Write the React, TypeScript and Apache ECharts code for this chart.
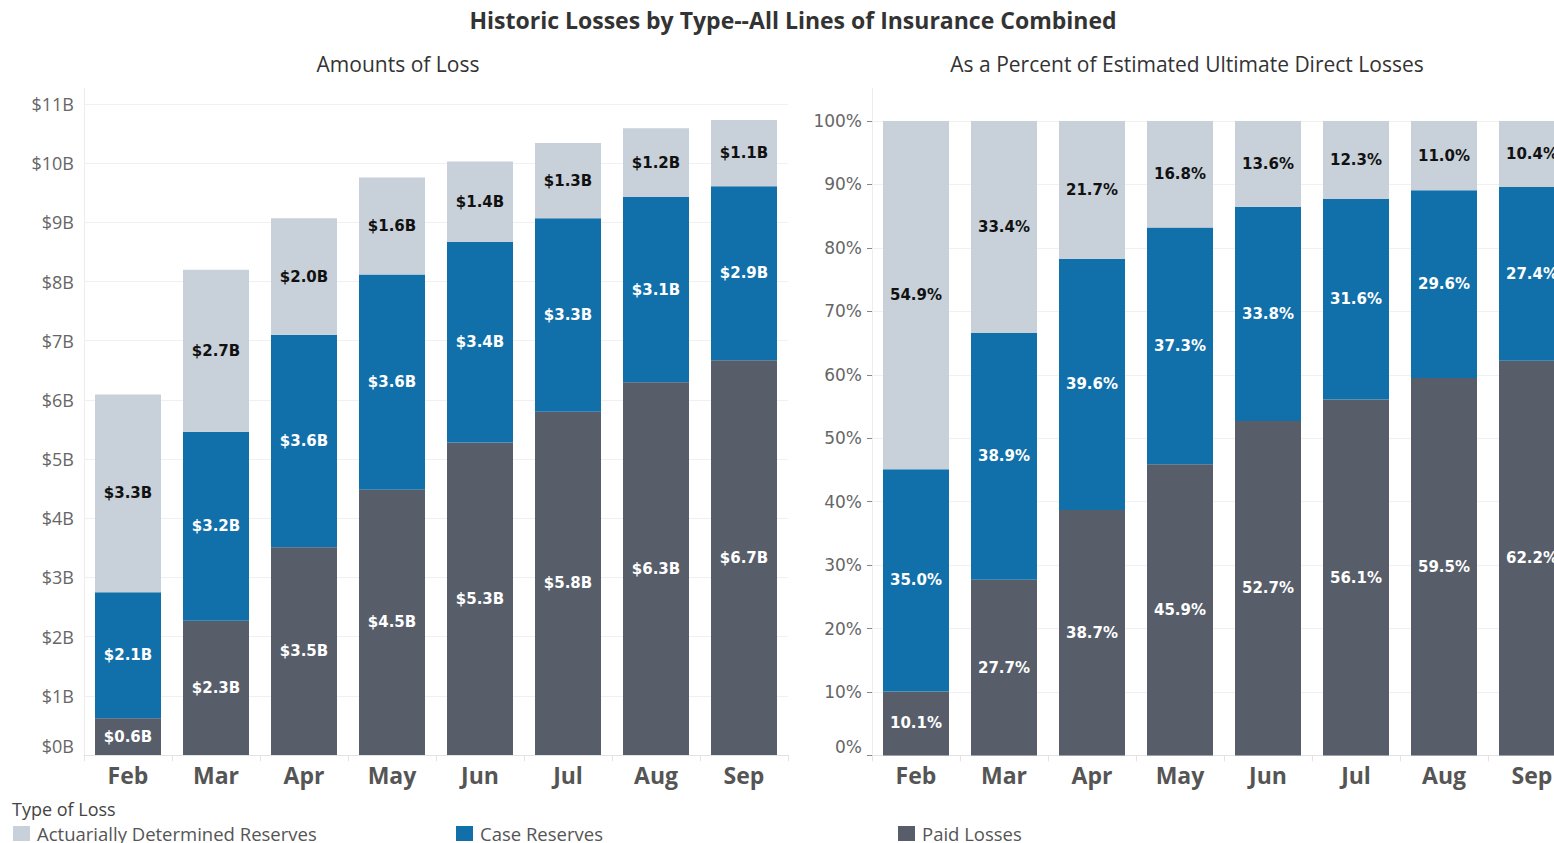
import React, { useEffect, useRef } from "react";
import * as echarts from "echarts";

const months = ["Feb", "Mar", "Apr", "May", "Jun", "Jul", "Aug", "Sep"];
// Amounts of loss, $ billions
const paidAmt = [0.62, 2.27, 3.51, 4.48, 5.28, 5.8, 6.3, 6.67];
const caseAmt = [2.13, 3.19, 3.59, 3.64, 3.39, 3.27, 3.13, 2.94];
const actAmt = [3.34, 2.74, 1.97, 1.64, 1.36, 1.27, 1.16, 1.12];
// Percent of estimated ultimate direct losses
const paidPct = [10.1, 27.7, 38.7, 45.9, 52.7, 56.1, 59.5, 62.2];
const casePct = [35.0, 38.9, 39.6, 37.3, 33.8, 31.6, 29.6, 27.4];
const actPct = [54.9, 33.4, 21.7, 16.8, 13.6, 12.3, 11.0, 10.4];

const NAME_ACT = "Actuarially Determined Reserves";
const NAME_CASE = "Case Reserves";
const NAME_PAID = "Paid Losses";

const C_ACT = "#c8d0d9";
const C_CASE = "#1170aa";
const C_PAID = "#575e6a";

const labelFont = "DejaVu Sans";
const uiFont = "Open Sans";

export default function App() {
  const ref = useRef<HTMLDivElement>(null);
  useEffect(() => {
    if (!ref.current) return;
    const chart = echarts.init(ref.current, undefined, { renderer: "svg" });

    const amtLabel = (color: string) => ({
      show: true,
      position: "inside",
      color,
      fontFamily: labelFont,
      fontWeight: "bold",
      fontSize: 15,
      textBorderWidth: 0,
      formatter: (p: any) => "$" + Number(p.value).toFixed(1) + "B",
    });
    const pctLabel = (color: string) => ({
      show: true,
      position: "inside",
      color,
      fontFamily: labelFont,
      fontWeight: "bold",
      fontSize: 15,
      textBorderWidth: 0,
      formatter: (p: any) => Number(p.value).toFixed(1) + "%",
    });

    const xAxisBase = {
      type: "category",
      data: months,
      axisLine: { show: true, lineStyle: { color: "#e3e3e3" } },
      axisTick: { show: true, length: 6, lineStyle: { color: "#e3e3e3" } },
      axisLabel: {
        color: "#555",
        fontFamily: uiFont,
        fontWeight: "bold",
        fontSize: 23,
        margin: 8,
      },
    };

    const legendBase = {
      orient: "horizontal",
      icon: "rect",
      itemWidth: 17,
      itemHeight: 15,
      itemGap: 8,
      padding: 0,
      textStyle: { color: "#555", fontFamily: uiFont, fontSize: 18.5, lineHeight: 15, padding: [0, 0, 0, 2] },
      selectedMode: false,
    };

    chart.setOption({
      animation: false,
      backgroundColor: "#fff",
      title: [
        {
          text: "Historic Losses by Type--All Lines of Insurance Combined",
          left: 793,
          top: 8,
          textAlign: "center",
          padding: 0,
          textStyle: { color: "#333", fontFamily: uiFont, fontWeight: "bold", fontSize: 23 },
        },
        {
          text: "Amounts of Loss",
          left: 398,
          top: 53,
          textAlign: "center",
          padding: 0,
          textStyle: { color: "#333", fontFamily: uiFont, fontWeight: "normal", fontSize: 21 },
        },
        {
          text: "As a Percent of Estimated Ultimate Direct Losses",
          left: 1187,
          top: 53,
          textAlign: "center",
          padding: 0,
          textStyle: { color: "#333", fontFamily: uiFont, fontWeight: "normal", fontSize: 21 },
        },
        {
          text: "Type of Loss",
          left: 12,
          top: 800,
          padding: 0,
          textStyle: { color: "#444", fontFamily: uiFont, fontWeight: "normal", fontSize: 18 },
        },
      ],
      legend: [
        { ...legendBase, left: 13, top: 824, data: [NAME_ACT] },
        { ...legendBase, left: 456, top: 824, data: [NAME_CASE] },
        { ...legendBase, left: 898, top: 824, data: [NAME_PAID] },
      ],
      grid: [
        { left: 84, top: 104, width: 704, height: 651, outerBoundsMode: "none" },
        { left: 872, top: 121, width: 704, height: 634.5, outerBoundsMode: "none" },
      ],
      xAxis: [
        { ...xAxisBase, gridIndex: 0 },
        { ...xAxisBase, gridIndex: 1 },
      ],
      yAxis: [
        {
          type: "value",
          gridIndex: 0,
          min: 0,
          max: 11,
          interval: 1,
          axisLine: { show: true, lineStyle: { color: "#ececec" } },
          axisTick: { show: false },
          splitLine: { show: true, lineStyle: { color: "#f0f0f0" } },
          axisLabel: {
            color: "#666",
            fontFamily: uiFont,
            fontSize: 18,
            margin: 10,
            verticalAlignMinLabel: "bottom",
            formatter: (v: number) => "$" + v + "B",
          },
        },
        {
          type: "value",
          gridIndex: 1,
          min: 0,
          max: 100,
          interval: 10,
          axisLine: { show: true, lineStyle: { color: "#ececec" } },
          axisTick: { show: true, length: 5, lineStyle: { color: "#888" } },
          splitLine: { show: true, lineStyle: { color: "#f0f0f0" } },
          axisLabel: {
            color: "#666",
            fontFamily: labelFont,
            fontSize: 17,
            margin: 10,
            verticalAlignMinLabel: "bottom",
            formatter: (v: number) => v + "%",
          },
        },
      ],
      graphic: [
        { type: "line", shape: { x1: 84.5, y1: 88, x2: 84.5, y2: 104 }, style: { stroke: "#ececec", lineWidth: 1 } },
        { type: "line", shape: { x1: 872.5, y1: 88, x2: 872.5, y2: 121 }, style: { stroke: "#ececec", lineWidth: 1 } },
      ],
      series: [
        { name: NAME_PAID, type: "bar", stack: "amt", xAxisIndex: 0, yAxisIndex: 0, barWidth: 66, data: paidAmt, itemStyle: { color: C_PAID }, label: amtLabel("#fff") },
        { name: NAME_CASE, type: "bar", stack: "amt", xAxisIndex: 0, yAxisIndex: 0, barWidth: 66, data: caseAmt, itemStyle: { color: C_CASE }, label: amtLabel("#fff") },
        { name: NAME_ACT, type: "bar", stack: "amt", xAxisIndex: 0, yAxisIndex: 0, barWidth: 66, data: actAmt, itemStyle: { color: C_ACT }, label: amtLabel("#111") },
        { name: NAME_PAID, type: "bar", stack: "pct", xAxisIndex: 1, yAxisIndex: 1, barWidth: 66, data: paidPct, itemStyle: { color: C_PAID }, label: pctLabel("#fff") },
        { name: NAME_CASE, type: "bar", stack: "pct", xAxisIndex: 1, yAxisIndex: 1, barWidth: 66, data: casePct, itemStyle: { color: C_CASE }, label: pctLabel("#fff") },
        { name: NAME_ACT, type: "bar", stack: "pct", xAxisIndex: 1, yAxisIndex: 1, barWidth: 66, data: actPct, itemStyle: { color: C_ACT }, label: pctLabel("#111") },
      ],
    });

    return () => chart.dispose();
  }, []);

  return (
    <div style={{ position: "absolute", left: 0, top: 0, width: 1554, height: 843, overflow: "hidden" }}>
      <div ref={ref} style={{ width: 1620, height: 843 }} />
    </div>
  );
}
